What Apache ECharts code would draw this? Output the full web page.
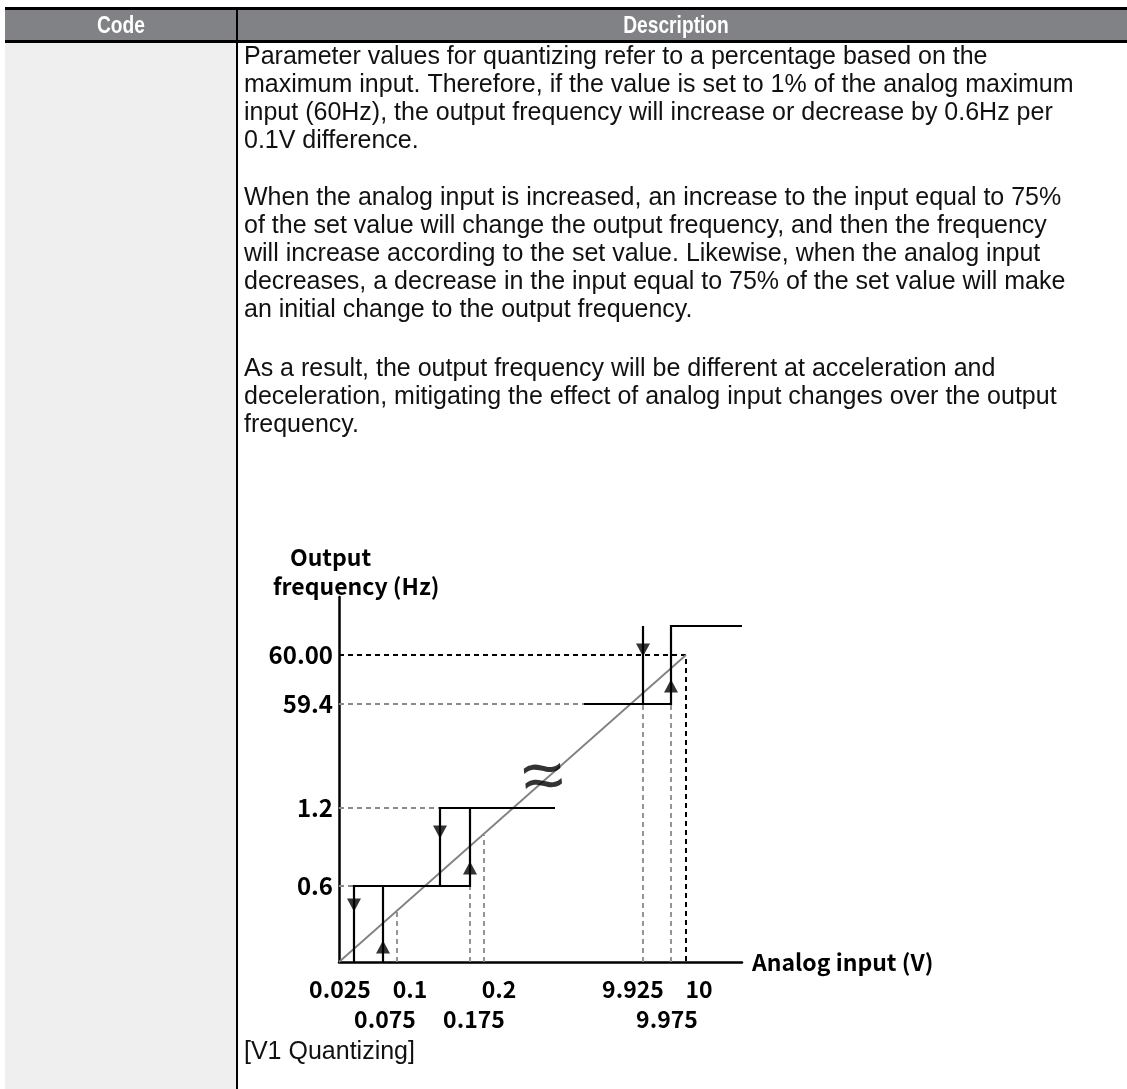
<!DOCTYPE html>
<html>
<head>
<meta charset="utf-8">
<script src="https://cdn.jsdelivr.net/npm/echarts@6/dist/echarts.min.js"></script>
<style>
html,body{margin:0;padding:0;background:#fff;}
#c{width:1127px;height:1089px;}
</style>
</head>
<body>
<div id="c"></div>
<script>
// ---------- text content ----------
const headerCode = 'Code';
const headerDesc = 'Description';
const para1 = [
  'Parameter values for quantizing refer to a percentage based on the',
  'maximum input. Therefore, if the value is set to 1% of the analog maximum',
  'input (60Hz), the output frequency will increase or decrease by 0.6Hz per',
  '0.1V difference.'
];
const para2 = [
  'When the analog input is increased, an increase to the input equal to 75%',
  'of the set value will change the output frequency, and then the frequency',
  'will increase according to the set value. Likewise, when the analog input',
  'decreases, a decrease in the input equal to 75% of the set value will make',
  'an initial change to the output frequency.'
];
const para3 = [
  'As a result, the output frequency will be different at acceleration and',
  'deceleration, mitigating the effect of analog input changes over the output',
  'frequency.'
];
const caption = '[V1 Quantizing]';
const yTitle1 = 'Output';
const yTitle2 = 'frequency (Hz)';
const xTitle = 'Analog input (V)';

// ---------- schematic diagram data (diagram is not to scale) ----------
// input voltages and their schematic position along the input axis
const inputNames = ['0', '0.025', '0.075', '0.1', '0.125', '0.175', '0.2', 'breakL', 'breakR', '9.925', '9.975', '10', 'end'];
const inputAxis  = [0, 15, 44, 58, 101, 131, 145, 216, 245, 304, 332, 347, 403];
// output frequencies and their schematic position along the frequency axis
const freqNames = ['0', '0.6', '1.2', '59.4', '60.00', '60.6', 'top'];
const freqAxis  = [0, 76, 154, 258, 307, 336, 365];

// tick label texts on the input axis (row 1 / row 2) and their schematic positions
const xLabelTexts = ['0.025', '0.1', '0.2', '9.925', '10', '0.075', '0.175', '9.975'];
const xLabelRows  = [1, 1, 1, 1, 1, 2, 2, 2];
const xLabelAxis  = [1, 71, 160, 294, 360, 46, 135, 328];
// tick labels on the frequency axis
const yLabelTexts = ['0.6', '1.2', '59.4', '60.00'];

// ideal (linear) characteristic end point
const idealEnd = ['10', '60.00'];
// where the dashed projections of the ideal line meet it (schematic heights)
const idealMeet01 = 50;  // at 0.1 V
const idealMeet02 = 127; // at 0.2 V
// arrow centres (schematic heights on each edge)
const downArrows = [['0.025', 57], ['0.125', 130], ['9.925', 312]];
const upArrows   = [['0.075', 15], ['0.175', 94], ['9.975', 276]];
const approxAt = [204, 185];

function X(n){ return inputAxis[inputNames.indexOf(n)]; }
function Y(n){ return freqAxis[freqNames.indexOf(n)]; }

// solid step characteristic (hysteresis)
const solidPaths = [
  [[X('0.025'), 0], [X('0.025'), Y('0.6')], [X('0.175'), Y('0.6')], [X('0.175'), Y('1.2')]],
  [[X('0.075'), 0], [X('0.075'), Y('0.6')]],
  [[X('0.125'), Y('0.6')], [X('0.125'), Y('1.2')], [X('breakL'), Y('1.2')]],
  [[X('breakR'), Y('59.4')], [X('9.975'), Y('59.4')], [X('9.975'), Y('60.6')], [X('end'), Y('60.6')]],
  [[X('9.925'), Y('59.4')], [X('9.925'), Y('60.6')]]
];
const blackDashPaths = [
  [[0, Y('60.00')], [X('10'), Y('60.00')], [X('10'), 0]]
];
const grayDashPaths = [
  [[0, Y('59.4')], [X('breakR'), Y('59.4')]],
  [[0, Y('1.2')], [X('0.125'), Y('1.2')]],
  [[0, Y('0.6')], [X('0.025'), Y('0.6')]],
  [[X('0.1'), 0], [X('0.1'), idealMeet01]],
  [[X('0.175'), 0], [X('0.175'), Y('0.6')]],
  [[X('0.2'), 0], [X('0.2'), idealMeet02]],
  [[X('9.925'), 0], [X('9.925'), Y('59.4')]],
  [[X('9.975'), 0], [X('9.975'), Y('59.4')]]
];

const chartFont = '"Noto Sans CJK KR", "Noto Sans", sans-serif';
const bodyFont = '"Liberation Sans", Arial, sans-serif';

// ---------- page graphics (table frame + text) ----------
const graphics = [];
graphics.push({type:'rect', shape:{x:5, y:7, width:1122, height:36}, style:{fill:'#000'}});
graphics.push({type:'rect', shape:{x:5, y:10, width:1122, height:30}, style:{fill:'#808285'}});
graphics.push({type:'rect', shape:{x:5, y:43, width:231, height:1046}, style:{fill:'#efefef'}});
graphics.push({type:'rect', shape:{x:236, y:10, width:2, height:1079}, style:{fill:'#000'}});
graphics.push({type:'text', x:121, y:26, scaleX:0.8, style:{text:headerCode, fill:'#fff', font:'bold 24px "Liberation Sans", sans-serif', textAlign:'center', textVerticalAlign:'middle'}});
graphics.push({type:'text', x:676, y:26, scaleX:0.8, style:{text:headerDesc, fill:'#fff', font:'bold 24px "Liberation Sans", sans-serif', textAlign:'center', textVerticalAlign:'middle'}});
function addPara(lines, y0){
  lines.forEach(function(t, i){
    graphics.push({type:'text', x:244, y:y0 + i*28, style:{text:t, fill:'#111', font:'25px ' + bodyFont, textAlign:'left', textVerticalAlign:'middle'}});
  });
}
addPara(para1, 57);
addPara(para2, 198);
addPara(para3, 369);
graphics.push({type:'text', x:244, y:1052, style:{text:caption, fill:'#111', font:'25px ' + bodyFont, textAlign:'left', textVerticalAlign:'middle'}});
graphics.push({type:'text', x:290, y:557, style:{text:yTitle1, fill:'#000', font:'bold 23px ' + chartFont, textAlign:'left', textVerticalAlign:'middle'}});
graphics.push({type:'text', x:273, y:586, style:{text:yTitle2, fill:'#000', font:'bold 23px ' + chartFont, textAlign:'left', textVerticalAlign:'middle'}});

function pathItems(paths, color, type, width){
  return paths.map(function(p){ return {coords:p, lineStyle:{color:color, type:type, width:width, opacity:1}}; });
}

const chart = echarts.init(document.getElementById('c'), null, {renderer:'canvas'});
chart.setOption({
  animation:false,
  backgroundColor:'#fff',
  graphic: graphics,
  grid:{left:339, top:597, width:403, height:365},
  xAxis:{
    type:'value', min:0, max:inputAxis[inputAxis.length-1],
    axisLine:{show:true, onZero:false, lineStyle:{color:'#000', width:2.5}},
    axisTick:{show:false}, splitLine:{show:false},
    axisLabel:{
      customValues: xLabelAxis, margin:12, color:'#000', fontFamily:chartFont, fontWeight:'bold', fontSize:23, lineHeight:30,
      formatter:function(v){ var i = xLabelAxis.indexOf(v); if(i<0) return ''; return (xLabelRows[i]===2 ? '\n' : '') + xLabelTexts[i]; }
    },
    name: xTitle, nameLocation:'end', nameGap:10,
    nameTextStyle:{color:'#000', fontFamily:chartFont, fontWeight:'bold', fontSize:23, align:'left', verticalAlign:'middle'}
  },
  yAxis:{
    type:'value', min:0, max:freqAxis[freqAxis.length-1],
    axisLine:{show:true, onZero:false, lineStyle:{color:'#000', width:2.5}},
    axisTick:{show:false}, splitLine:{show:false},
    axisLabel:{
      customValues: yLabelTexts.map(Y), margin:6, color:'#000', fontFamily:chartFont, fontWeight:'bold', fontSize:24,
      formatter:function(v){ var i = yLabelTexts.map(Y).indexOf(v); return i<0 ? '' : yLabelTexts[i]; }
    }
  },
  series:[
    {type:'line', data:[[0,0],[X(idealEnd[0]), Y(idealEnd[1])]], symbol:'none', lineStyle:{color:'#808080', width:1.8}, z:2},
    {type:'lines', coordinateSystem:'cartesian2d', polyline:true, data:pathItems(grayDashPaths, '#8a8a8a', [5,4], 1.8), z:1, silent:true},
    {type:'lines', coordinateSystem:'cartesian2d', polyline:true, data:pathItems(blackDashPaths, '#000', [5,4], 2), z:1, silent:true},
    {type:'lines', coordinateSystem:'cartesian2d', polyline:true, data:pathItems(solidPaths, '#000', 'solid', 2.2), z:3, silent:true},
    {type:'scatter', data:downArrows.map(function(a){return [X(a[0]), a[1]];}), symbol:'triangle', symbolRotate:180, symbolSize:[14,13], itemStyle:{color:'#000'}, z:4},
    {type:'scatter', data:upArrows.map(function(a){return [X(a[0]), a[1]];}), symbol:'triangle', symbolSize:[14,13], itemStyle:{color:'#000'}, z:4},
    {type:'scatter', data:[approxAt], symbolSize:1, itemStyle:{color:'rgba(0,0,0,0)'}, z:5,
      label:{show:true, position:'inside', formatter:'\u2248', fontSize:74, fontWeight:'lighter', color:'#000', fontFamily:'"DejaVu Sans", sans-serif', rotate:6, offset:[0,4]}}
  ]
});
</script>
</body>
</html>
